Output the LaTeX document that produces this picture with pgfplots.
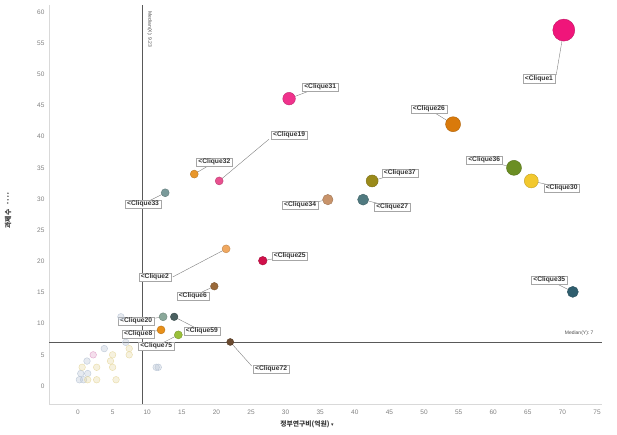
\documentclass[border=0pt]{standalone}
\usepackage{pgfplots}
\pgfplotsset{compat=1.18}
\usepackage{fontspec}
\setmainfont{Liberation Sans}
\newfontfamily\kr{Noto Sans CJK KR}
\newfontfamily\djsym{DejaVu Sans}
\definecolor{cA}{HTML}{F0157A}
\definecolor{cB}{HTML}{D97A0B}
\definecolor{cC}{HTML}{6B8E23}
\definecolor{cD}{HTML}{F2C82E}
\definecolor{cE}{HTML}{F0328C}
\definecolor{cF}{HTML}{E8508F}
\definecolor{cG}{HTML}{E8962A}
\definecolor{cH}{HTML}{7A9A9A}
\definecolor{cI}{HTML}{9A8A1A}
\definecolor{cJ}{HTML}{C8936A}
\definecolor{cK}{HTML}{507A80}
\definecolor{cL}{HTML}{F0A860}
\definecolor{cM}{HTML}{D0104A}
\definecolor{cN}{HTML}{9A6A3A}
\definecolor{cO}{HTML}{6A4A30}
\definecolor{cP}{HTML}{2F5E6E}
\definecolor{cQ}{HTML}{8AA89A}
\definecolor{cR}{HTML}{4A6060}
\definecolor{cS}{HTML}{E8901A}
\definecolor{cT}{HTML}{9AC03A}
\definecolor{fg}{HTML}{B8C4D4}
\definecolor{fy}{HTML}{E6D8A0}
\definecolor{fp}{HTML}{E0A0C8}
\newcommand{\bub}[4]{\addplot[only marks, mark=*, mark size=#3, draw=#4!80!black, fill=#4, line width=0.4pt] coordinates {(#1,#2)};}
\newcommand{\fad}[3]{\addplot[only marks, mark=*, mark size=3.3, draw=#3, fill=#3, fill opacity=0.35, draw opacity=0.8, line width=0.5pt] coordinates {(#1,#2)};}
\newcommand{\lead}[4]{\addplot[gray, line width=0.4pt, no marks] coordinates {(#1,#2) (#3,#4)};}
\tikzset{clab/.style={draw=gray!70, fill=white, font=\bfseries\fontsize{6.7}{7.5}\selectfont, text=black!80, inner xsep=2pt, inner ysep=0.9pt}}
\begin{document}
\begin{tikzpicture}[x=1pt,y=1pt]
\useasboundingbox (0,0) rectangle (617,435);
\begin{axis}[
  at={(49pt,31pt)}, anchor=south west,
  scale only axis, width=553pt, height=399pt,
  xmin=-4.19, xmax=75.72, ymin=-2.89, ymax=61.13,
  xtick={0,5,...,75}, ytick={0,5,...,60},
  axis x line*=bottom, axis y line*=left,
  axis line style={draw=gray!30, -},
  major tick length=0pt,
  tick label style={font=\fontsize{6.5}{7}\selectfont, text=gray},
  xticklabel style={yshift=-2pt},
  yticklabel style={xshift=-1pt},
  /pgf/number format/assume math mode=true,
  clip=false,
]
% median lines
\addplot[black!65, line width=0.6pt, no marks] coordinates {(9.23,-2.89) (9.23,61.13)};
\addplot[black!65, line width=0.6pt, no marks] coordinates {(-4.19,7) (75.72,7)};
\node[rotate=-90, anchor=west, font=\fontsize{5}{5}\selectfont, text=black!70] at (axis cs:10.35,60.6) {Median(X): 9.23};
\node[anchor=east, font=\fontsize{5}{5}\selectfont, text=black!70] at (axis cs:75.0,8.4) {Median(Y): 7};
% leaders
\lead{70.2}{57.1}{69.1}{49.9}
\lead{54.2}{42.0}{50.7}{44.4}
\lead{63.0}{35.0}{58.7}{36.3}
\lead{65.5}{32.9}{69.9}{31.8}
\lead{30.5}{46.1}{35.0}{48.0}
\lead{20.4}{32.9}{27.6}{39.6}
\lead{16.8}{34.0}{19.7}{35.9}
\lead{12.6}{31.0}{9.4}{29.2}
\lead{42.5}{32.9}{46.5}{34.2}
\lead{36.1}{29.9}{32.1}{29.0}
\lead{41.2}{29.9}{45.4}{28.7}
\lead{21.4}{22.0}{13.7}{17.5}
\lead{26.7}{20.1}{30.6}{20.9}
\lead{19.7}{16.0}{16.6}{14.4}
\lead{22.0}{7.06}{25.1}{3.2}
\lead{71.5}{15.1}{68.1}{17.0}
\lead{12.3}{11.1}{8.4}{10.4}
\lead{13.9}{11.1}{17.9}{8.8}
\lead{12.0}{9.0}{8.7}{8.3}
\lead{14.5}{8.2}{11.3}{6.4}
% faded points
\fad{6.2}{11.1}{fg}
\fad{6.9}{7.0}{fg}
\fad{7.4}{6.0}{fy}
\fad{7.4}{5.0}{fy}
\fad{3.8}{6.0}{fg}
\fad{2.2}{5.0}{fp}
\fad{5.0}{5.0}{fy}
\fad{1.3}{4.0}{fg}
\fad{4.7}{4.0}{fy}
\fad{0.6}{3.0}{fy}
\fad{2.7}{3.0}{fy}
\fad{5.0}{3.0}{fy}
\fad{11.3}{3.0}{fg}
\fad{11.6}{3.0}{fg}
\fad{0.4}{2.0}{fg}
\fad{1.4}{2.0}{fg}
\fad{0.2}{1.0}{fg}
\fad{0.8}{1.0}{fg}
\fad{1.4}{1.0}{fy}
\fad{2.7}{1.0}{fy}
\fad{5.5}{1.0}{fy}
% bubbles
\bub{70.2}{57.1}{11}{cA}
\bub{54.2}{42.0}{7.5}{cB}
\bub{63.0}{35.0}{7.5}{cC}
\bub{65.5}{32.9}{7}{cD}
\bub{30.5}{46.1}{6.3}{cE}
\bub{20.4}{32.9}{4}{cF}
\bub{16.8}{34.0}{4}{cG}
\bub{12.6}{31.0}{4}{cH}
\bub{42.5}{32.9}{6}{cI}
\bub{36.1}{29.9}{5.2}{cJ}
\bub{41.2}{29.9}{5.5}{cK}
\bub{21.4}{22.0}{4}{cL}
\bub{26.7}{20.1}{4.3}{cM}
\bub{19.7}{16.0}{3.8}{cN}
\bub{22.0}{7.06}{3.5}{cO}
\bub{71.5}{15.1}{5.5}{cP}
\bub{12.3}{11.1}{4}{cQ}
\bub{13.9}{11.1}{3.8}{cR}
\bub{12.0}{9.0}{4}{cS}
\bub{14.5}{8.2}{4}{cT}
% labels
\node[clab] at (axis cs:66.6,49.3) {<Clique1};
\node[clab] at (axis cs:50.7,44.4) {<Clique26};
\node[clab] at (axis cs:58.7,36.3) {<Clique36};
\node[clab] at (axis cs:69.9,31.8) {<Clique30};
\node[clab] at (axis cs:35.0,48.0) {<Clique31};
\node[clab] at (axis cs:30.5,40.3) {<Clique19};
\node[clab] at (axis cs:19.7,35.9) {<Clique32};
\node[clab] at (axis cs:9.4,29.2) {<Clique33};
\node[clab] at (axis cs:46.5,34.2) {<Clique37};
\node[clab] at (axis cs:32.1,29.0) {<Clique34};
\node[clab] at (axis cs:45.4,28.7) {<Clique27};
\node[clab] at (axis cs:11.1,17.5) {<Clique2};
\node[clab] at (axis cs:30.6,20.9) {<Clique25};
\node[clab] at (axis cs:16.6,14.4) {<Clique6};
\node[clab] at (axis cs:27.9,2.7) {<Clique72};
\node[clab] at (axis cs:68.1,17.0) {<Clique35};
\node[clab] at (axis cs:8.4,10.4) {<Clique20};
\node[clab] at (axis cs:17.9,8.8) {<Clique59};
\node[clab] at (axis cs:8.7,8.3) {<Clique8};
\node[clab] at (axis cs:11.3,6.4) {<Clique75};
\end{axis}
\node[font=\kr\bfseries\fontsize{6.8}{7}\selectfont, text=black!80] at (307,11) {정부연구비(억원) {\djsym\fontsize{5}{5}\selectfont▾}};
\node[rotate=90, font=\kr\bfseries\fontsize{6.8}{7}\selectfont, text=black!80, anchor=west] at (8,203) {과제수};
\node[rotate=90, font=\djsym\fontsize{4}{4}\selectfont, text=black!60, anchor=west] at (8,227) {▾\,\,◂\,\,▸\,\,▸};
\end{tikzpicture}
\end{document}
